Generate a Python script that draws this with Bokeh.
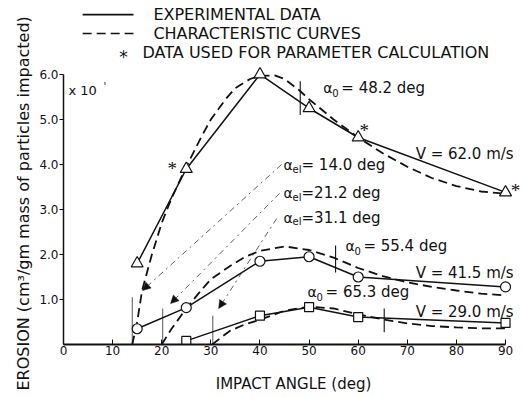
from bokeh.plotting import figure
from bokeh.models import (Range1d, FixedTicker, PrintfTickFormatter, Label, LabelSet,
                          Arrow, NormalHead, ColumnDataSource, Title)
from bokeh.embed import file_html
from bokeh.resources import INLINE

# ---------------- data ----------------
ang62 = [15, 25, 40, 50, 60, 90]
ero62 = [1.8, 3.9, 6.0, 5.25, 4.6, 3.38]
ang41 = [15, 25, 40, 50, 60, 90]
ero41 = [0.35, 0.82, 1.85, 1.95, 1.5, 1.28]
ang29 = [25, 40, 50, 60, 90]
ero29 = [0.08, 0.64, 0.83, 0.61, 0.48]

# characteristic (model) curves
cur62_x = [14, 15, 16, 18, 20, 22, 25, 28, 30, 33, 35, 38, 40, 43, 45, 48, 50, 55, 60, 65, 70, 75, 80, 85, 90]
cur62_y = [0, 0.5, 1.2, 2.0, 2.7, 3.25, 3.95, 4.6, 5.0, 5.45, 5.7, 5.9, 5.97, 5.98, 5.9, 5.65, 5.45, 5.0, 4.6, 4.25, 3.95, 3.7, 3.52, 3.4, 3.35]
cur41_x = [20, 22, 25, 28, 30, 34, 37, 40, 45, 50, 55, 60, 65, 70, 75, 80, 85, 90]
cur41_y = [0, 0.35, 0.8, 1.2, 1.45, 1.75, 1.95, 2.08, 2.18, 2.1, 1.93, 1.7, 1.52, 1.38, 1.28, 1.2, 1.13, 1.09]
cur29_x = [30.3, 32, 34, 37, 40, 45, 50, 55, 60, 65, 70, 75, 80, 85, 90]
cur29_y = [0, 0.15, 0.31, 0.45, 0.55, 0.75, 0.84, 0.8, 0.67, 0.56, 0.47, 0.41, 0.38, 0.36, 0.36]

# points used for parameter calculation (V = 62.0 m/s)
star_x = [25, 60, 90]
star_y = [3.9, 4.6, 3.38]

# alpha_0 markers (angle of maximum erosion)
a0_x = [48.2, 55.4, 65.3]
a0_lo = [5.1, 1.6, 0.27]
a0_hi = [5.85, 2.2, 0.8]
a0_text = ["48.2 deg", "55.4 deg", "65.3 deg"]

# alpha_el markers (threshold angle)
ael_x = [14.0, 20.2, 30.4]
ael_top = [1.05, 0.8, 0.64]
ael_text = ["= 14.0 deg", "=21.2 deg", "=31.1 deg"]

vel_text = ["V = 62.0 m/s", "V = 41.5 m/s", "V = 29.0 m/s"]
legend_text = ["EXPERIMENTAL DATA", "CHARACTERISTIC CURVES", "DATA USED FOR PARAMETER CALCULATION"]
y_title = "EROSION (cm³/gm mass of particles impacted)"
x_title = "IMPACT ANGLE (deg)"

x_ticks = [0, 10, 20, 30, 40, 50, 60, 70, 80, 90]
y_ticks = [1, 2, 3, 4, 5, 6]

# ---------------- styling ----------------
INK = "#111111"
FONT = "DejaVu Sans"

p = figure(width=523, height=398, x_range=Range1d(0, 93.66), y_range=Range1d(0, 7.644),
           output_backend="svg", toolbar_location=None,
           min_border_left=63, min_border_right=0, min_border_top=0, min_border_bottom=54)
p.outline_line_color = None
p.grid.visible = False
p.background_fill_color = "white"
p.border_fill_color = "white"

xa = p.xaxis[0]
xa.ticker = FixedTicker(ticks=x_ticks)
xa.bounds = (0, 90)
xa.axis_line_width = 2
xa.axis_line_color = INK
xa.major_tick_in = 5
xa.major_tick_out = 0
xa.minor_tick_line_color = None
xa.major_tick_line_color = INK
xa.major_label_standoff = 1
xa.major_label_text_font = FONT
xa.major_label_text_font_size = "12px"
xa.major_label_text_color = INK
xa.axis_label = x_title
xa.axis_label_text_font = FONT
xa.axis_label_text_font_size = "15px"
xa.axis_label_text_font_style = "normal"
xa.axis_label_text_color = INK
xa.axis_label_standoff = 17

ya = p.yaxis[0]
ya.ticker = FixedTicker(ticks=y_ticks)
ya.formatter = PrintfTickFormatter(format="%.1f")
ya.bounds = (0, 6)
ya.axis_line_width = 1.5
ya.axis_line_color = INK
ya.major_tick_in = 0
ya.major_tick_out = 4
ya.minor_tick_line_color = None
ya.major_tick_line_color = INK
ya.major_label_standoff = 1
ya.major_label_text_font = FONT
ya.major_label_text_font_size = "12px"
ya.major_label_text_color = INK

# y title as a left side-panel title; starts below the frame bottom like the reference
p.add_layout(Title(text=y_title, align="left", offset=-46, standoff=8,
                   text_font=FONT, text_font_size="16px", text_font_style="normal",
                   text_color=INK), "left")

# threshold verticals
p.segment(x0=ael_x, y0=[0] * len(ael_x), x1=ael_x, y1=ael_top, line_color="#444444", line_width=0.9)
# alpha_0 markers
p.segment(x0=a0_x, y0=a0_lo, x1=a0_x, y1=a0_hi, line_color=INK, line_width=1.1)

# characteristic curves (dashed)
for cx, cy in [(cur62_x, cur62_y), (cur41_x, cur41_y), (cur29_x, cur29_y)]:
    p.line(cx, cy, line_color=INK, line_width=1.8, line_dash="9 5")

# experimental data (solid + hollow markers)
p.line(ang62, ero62, line_color=INK, line_width=1.5)
p.line(ang41, ero41, line_color=INK, line_width=1.5)
p.line(ang29, ero29, line_color=INK, line_width=1.5)
p.scatter(ang62, ero62, marker="triangle", size=12, fill_color="white", line_color=INK, line_width=1.2)
p.scatter(ang41, ero41, marker="circle", size=10, fill_color="white", line_color=INK, line_width=1.2)
p.scatter(ang29, ero29, marker="square", size=9, fill_color="white", line_color=INK, line_width=1.2)

# stars marking data used for parameter calculation
star_src = ColumnDataSource(dict(x=star_x, y=star_y, t=["*"] * len(star_x),
                                 dx=[-14, 6, 10], dy=[0, 7, 2]))
p.add_layout(LabelSet(x="x", y="y", text="t", x_offset="dx", y_offset="dy", source=star_src,
                      text_font=FONT, text_font_size="19px", text_color=INK,
                      text_align="center", text_baseline="middle"))


def txt(x, y, s, dx=0, dy=0, size="15px"):
    p.add_layout(Label(x=x, y=y, text=s, x_offset=dx, y_offset=dy, text_font=FONT,
                       text_font_size=size, text_color=INK, text_align="left",
                       text_baseline="middle"))


# alpha_0 labels
a0_pos = [(52.9, 5.69), (57.4, 2.18), (49.7, 1.16)]
for (lx, ly), t in zip(a0_pos, a0_text):
    txt(lx, ly, "α", size="14px")
    txt(lx, ly, "0", dx=9, dy=-5, size="10px")
    txt(lx, ly, "= " + t, dx=18)

# velocity labels
v_pos = [(71.7, 4.24), (71.7, 1.58), (71.7, 0.73)]
for (lx, ly), t in zip(v_pos, vel_text):
    txt(lx, ly, t)

# alpha_el labels with leader arrows
ael_pos = [(44.8, 3.98), (44.8, 3.36), (44.8, 2.82)]
ael_arrow_start = [(44.4, 4.0), (44.0, 3.36), (43.4, 2.8)]
ael_arrow_end = [(16.1, 1.2), (21.8, 0.91), (31.6, 0.8)]
for (lx, ly), t, (sx, sy), (ex, ey) in zip(ael_pos, ael_text, ael_arrow_start, ael_arrow_end):
    txt(lx, ly, "α", size="14px")
    txt(lx, ly, "el", dx=9, dy=-4, size="10px")
    txt(lx, ly, t, dx=18)
    p.add_layout(Arrow(x_start=sx, y_start=sy, x_end=ex, y_end=ey,
                       line_color="#333333", line_width=0.8, line_dash="dashdot",
                       end=NormalHead(size=8, fill_color=INK, line_color=INK, line_width=0.5)))

# scale factor note
txt(1.0, 5.64, "x 10", size="13px")
txt(1.0, 5.64, "'", dx=35, dy=4, size="10px")

# legend (inside the frame, above the data area)
p.add_layout(Arrow(x_start=3.9, y_start=7.33, x_end=14.25, y_end=7.33, start=None, end=None,
                   line_color=INK, line_width=1.6))
p.add_layout(Arrow(x_start=3.9, y_start=6.91, x_end=14.25, y_end=6.91, start=None, end=None,
                   line_color=INK, line_width=1.6, line_dash="9 5"))
txt(18.3, 7.33, legend_text[0], size="16px")
txt(18.3, 6.91, legend_text[1], size="16px")
p.add_layout(Label(x=12.2, y=6.49, text="*", y_offset=-5, text_font=FONT, text_font_size="17px",
                   text_color=INK, text_align="center", text_baseline="middle"))
txt(16.1, 6.49, legend_text[2], size="16px")

open("out.html", "w").write(file_html(p, INLINE))
